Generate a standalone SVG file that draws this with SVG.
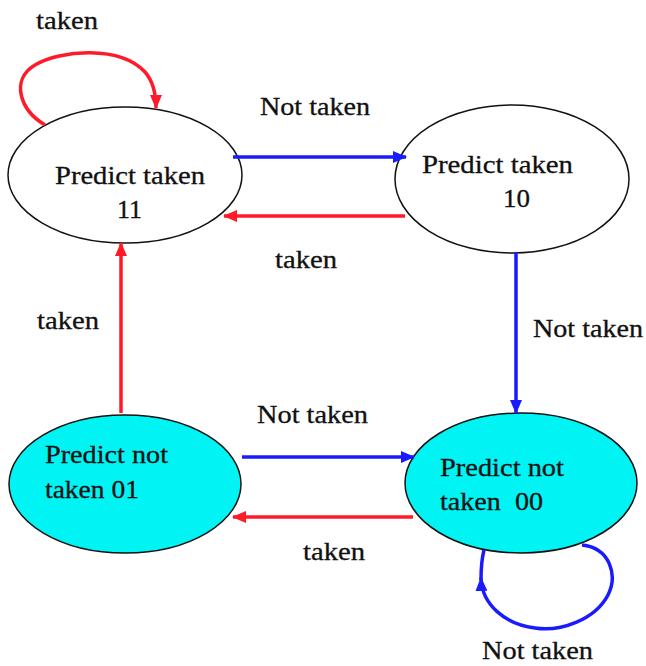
<svg xmlns="http://www.w3.org/2000/svg" width="646" height="666" viewBox="0 0 646 666">
  <style>
    .state { stroke: #111; stroke-width: 1.5; }
    .weak { fill: #ffffff; }
    .strong { fill: #00f4f4; }
    text { font-family: "Liberation Serif", "Times New Roman", serif; font-size: 25px; fill: #111; stroke: #111; stroke-width: 0.3; }
    .nt { fill: none; stroke: #1a1aff; stroke-width: 3.5; marker-end: url(#headBlue); }
    .tk { fill: none; stroke: #ff1a2a; stroke-width: 3.5; marker-end: url(#headRed); }
  </style>
  <defs>
    <marker id="headBlue" markerUnits="userSpaceOnUse" markerWidth="14" markerHeight="12" refX="13" refY="6" orient="auto">
      <path d="M0,0 L14,6 L0,12 z" fill="#1a1aff"/>
    </marker>
    <marker id="headRed" markerUnits="userSpaceOnUse" markerWidth="14" markerHeight="12" refX="13" refY="6" orient="auto">
      <path d="M0,0 L14,6 L0,12 z" fill="#ff1a2a"/>
    </marker>
  </defs>
  <rect width="646" height="666" fill="#ffffff"/>

  <!-- states -->
  <g id="state-11">
    <ellipse class="state weak" cx="125" cy="175" rx="117" ry="68"/>
    <text x="55" y="184" textLength="150" lengthAdjust="spacingAndGlyphs">Predict taken</text>
    <text x="117" y="218" textLength="25" lengthAdjust="spacingAndGlyphs">11</text>
  </g>
  <g id="state-10">
    <ellipse class="state weak" cx="512" cy="179" rx="117" ry="74"/>
    <text x="422" y="173" textLength="151" lengthAdjust="spacingAndGlyphs">Predict taken</text>
    <text x="503" y="207" textLength="27" lengthAdjust="spacingAndGlyphs">10</text>
  </g>
  <g id="state-01">
    <ellipse class="state strong" cx="125" cy="484" rx="116" ry="69"/>
    <text x="45" y="463" textLength="123" lengthAdjust="spacingAndGlyphs">Predict not</text>
    <text x="45" y="498" textLength="94" lengthAdjust="spacingAndGlyphs">taken 01</text>
  </g>
  <g id="state-00">
    <ellipse class="state strong" cx="521" cy="483" rx="116" ry="70"/>
    <text x="440" y="476" textLength="124" lengthAdjust="spacingAndGlyphs">Predict not</text>
    <text x="440" y="510" textLength="103" lengthAdjust="spacingAndGlyphs" xml:space="preserve">taken  00</text>
  </g>

  <!-- transitions -->
  <g id="connectors">
    <path class="tk" d="M45,125 C20,110 10,80 35,65 C60,50 120,45 145,72 C152,80 156,92 156,108"/>
    <path class="nt" d="M233,157 L406,157"/>
    <path class="tk" d="M405,216 L224,216"/>
    <path class="nt" d="M516,252 L516,413"/>
    <path class="tk" d="M121,413 L121,243"/>
    <path class="nt" d="M242,457 L414,457"/>
    <path class="tk" d="M413,517 L233,517"/>
    <path class="nt" d="M582,545 C610,548 618,575 608,595 C595,620 560,632 535,628 C505,624 482,605 481,578"/>
    <path d="M481,580 C481,566 482,558 484,550" fill="none" stroke="#1a1aff" stroke-width="3.5"/>
  </g>

  <!-- transition labels -->
  <g id="labels">
    <text x="36" y="29" textLength="62" lengthAdjust="spacingAndGlyphs">taken</text>
    <text x="260" y="115" textLength="110" lengthAdjust="spacingAndGlyphs">Not taken</text>
    <text x="275" y="268" textLength="62" lengthAdjust="spacingAndGlyphs">taken</text>
    <text x="533" y="337" textLength="110" lengthAdjust="spacingAndGlyphs">Not taken</text>
    <text x="37" y="329" textLength="62" lengthAdjust="spacingAndGlyphs">taken</text>
    <text x="257" y="423" textLength="111" lengthAdjust="spacingAndGlyphs">Not taken</text>
    <text x="303" y="560" textLength="62" lengthAdjust="spacingAndGlyphs">taken</text>
    <text x="482" y="659" textLength="111" lengthAdjust="spacingAndGlyphs">Not taken</text>
  </g>
</svg>
